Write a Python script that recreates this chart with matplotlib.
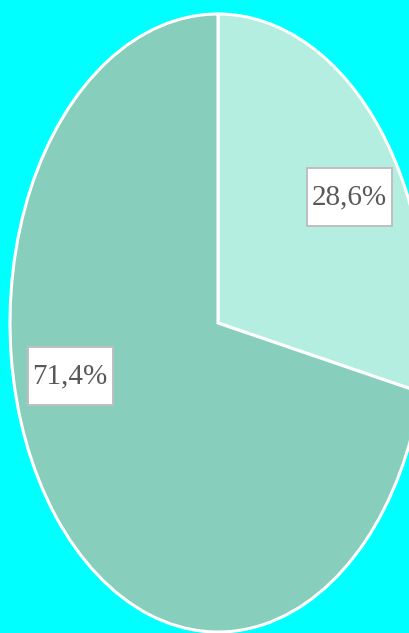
import matplotlib
matplotlib.use("Agg")
import numpy as np
import matplotlib.pyplot as plt
from matplotlib.patches import Rectangle

# slice shares (percent)
values = [28.6, 71.4]
labels = ["28,6%", "71,4%"]
colors = ["#b4eee0", "#88cebd"]

W, H = 409, 633
fig = plt.figure(figsize=(W / 100, H / 100), dpi=100, facecolor="#00ffff")
ax = fig.add_axes([0, 0, 1, 1])
ax.set_facecolor("#00ffff")

# pie is squashed into an ellipse: 208 px wide radius, 309 px tall radius
cx, cy = 218, 323
rx, ry = 208, 309
ax.pie(values, colors=colors, startangle=90, counterclock=False, radius=1,
       wedgeprops=dict(edgecolor="white", linewidth=2.2))
ax.set_aspect("auto")
ax.set_xlim(-cx / rx, (W - cx) / rx)
ax.set_ylim(-(H - cy) / ry, cy / ry)
ax.axis("off")

# label boxes, placed in pixel terms then converted
label_px = [(349, 197), (70, 376)]
box_px = [(85, 58), (85, 58)]
for lab, (px, py), (bw, bh) in zip(labels, label_px, box_px):
    x = (px - cx) / rx
    y = (cy - py) / ry
    ax.add_patch(Rectangle((x - bw / 2 / rx, y - bh / 2 / ry), bw / rx, bh / ry,
                           facecolor="white", edgecolor="#bfbfbf", linewidth=1.4, zorder=3))
    ax.text(x, y, lab, ha="center", va="center", fontsize=21, color="#595959",
            family=["Liberation Serif", "DejaVu Serif"], zorder=4)

fig.savefig("out.png", dpi=100, facecolor="#00ffff")
